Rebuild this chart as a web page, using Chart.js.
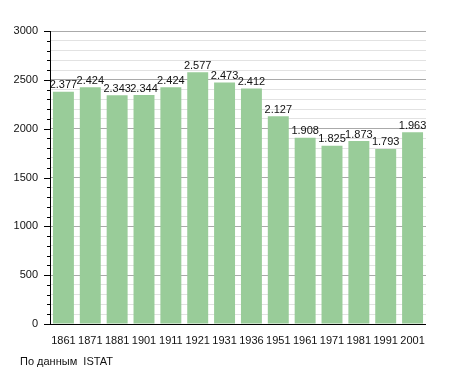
<!DOCTYPE html>
<html>
<head>
<meta charset="utf-8">
<script src="https://cdn.jsdelivr.net/npm/chart.js@4/dist/chart.umd.min.js"></script>
<style>
  body { margin: 0; background: #fff; }
  #wrap { width: 455px; height: 373px; position: relative; }
</style>
</head>
<body>
<div id="wrap"><canvas id="popChart"></canvas></div>
<script>
var years = ['1861', '1871', '1881', '1901', '1911', '1921', '1931', '1936', '1951', '1961', '1971', '1981', '1991', '2001'];
var population = [2377, 2424, 2343, 2344, 2424, 2577, 2473, 2412, 2127, 1908, 1825, 1873, 1793, 1963];
var yTicks = [0, 500, 1000, 1500, 2000, 2500, 3000];
var sourceNote = 'По данным  ISTAT';

function fmt(v) {
    var s = String(v);
    return s.length > 3 ? s.slice(0, s.length - 3) + '.' + s.slice(-3) : s;
}

// values over the bars + axis ticks + source line
var extras = {
    id: 'extras',
    afterDatasetsDraw: function(chart) {
        var ctx = chart.ctx;
        var meta = chart.getDatasetMeta(0);
        ctx.save();
        ctx.font = '11px "Liberation Sans", Arial, sans-serif';
        ctx.fillStyle = '#111';
        ctx.textAlign = 'center';
        ctx.textBaseline = 'bottom';
        meta.data.forEach(function(bar, i) {
            ctx.fillText(fmt(population[i]), bar.x, bar.y - 1);
        });

        var y = chart.scales.y;
        var area = chart.chartArea;
        ctx.strokeStyle = '#000';
        ctx.lineWidth = 1;
        for (var v = 0; v <= 3000; v += 100) {
            var py = Math.round(y.getPixelForValue(v)) + 0.5;
            var len = (v % 500 === 0) ? 6 : 3;
            ctx.beginPath();
            ctx.moveTo(area.left - len, py);
            ctx.lineTo(area.left, py);
            ctx.stroke();
        }
        ctx.beginPath();
        ctx.moveTo(Math.round(area.left) + 0.5, area.top);
        ctx.lineTo(Math.round(area.left) + 0.5, area.bottom);
        ctx.stroke();
        ctx.beginPath();
        ctx.moveTo(area.left, Math.round(area.bottom) + 0.5);
        ctx.lineTo(area.right, Math.round(area.bottom) + 0.5);
        ctx.stroke();

        ctx.textAlign = 'left';
        ctx.textBaseline = 'middle';
        ctx.fillStyle = '#111';
        ctx.fillText(sourceNote, 20, 362);
        ctx.restore();
    }
};

var popChart = new Chart(document.getElementById('popChart'), {
    type: 'bar',
    data: {
        labels: years,
        datasets: [{
            data: population,
            backgroundColor: 'rgb(153, 204, 153)',
            borderWidth: 0,
            barPercentage: 0.78,
            categoryPercentage: 1
        }]
    },
    options: {
        responsive: true,
        maintainAspectRatio: false,
        animation: false,
        layout: { padding: { top: 31, right: 29, left: 0, bottom: 0 } },
        plugins: {
            legend: { display: false },
            tooltip: { enabled: false }
        },
        scales: {
            x: {
                grid: { display: false },
                border: { display: false },
                ticks: {
                    color: '#111',
                    padding: 2,
                    maxRotation: 0,
                    autoSkip: false,
                    font: { family: '"Liberation Sans", Arial, sans-serif', size: 11 }
                },
                afterFit: function(s) { s.height = 49; }
            },
            y: {
                min: 0,
                max: 3000,
                afterBuildTicks: function(s) {
                    var t = [];
                    for (var v = 0; v <= 3000; v += 100) t.push({ value: v });
                    s.ticks = t;
                },
                grid: {
                    drawTicks: false,
                    color: function(c) {
                        var v = c.tick ? c.tick.value : 0;
                        if (v === 0) return 'rgba(0,0,0,0)';
                        return v % 500 === 0 ? '#aaaaaa' : '#e2e2e2';
                    }
                },
                border: { display: false },
                ticks: {
                    color: '#111',
                    padding: 12,
                    autoSkip: false,
                    font: { family: '"Liberation Sans", Arial, sans-serif', size: 11 },
                    callback: function(v) { return yTicks.indexOf(v) >= 0 ? v : ''; }
                },
                afterFit: function(s) { s.width = 50; }
            }
        }
    },
    plugins: [extras]
});
</script>
</body>
</html>
